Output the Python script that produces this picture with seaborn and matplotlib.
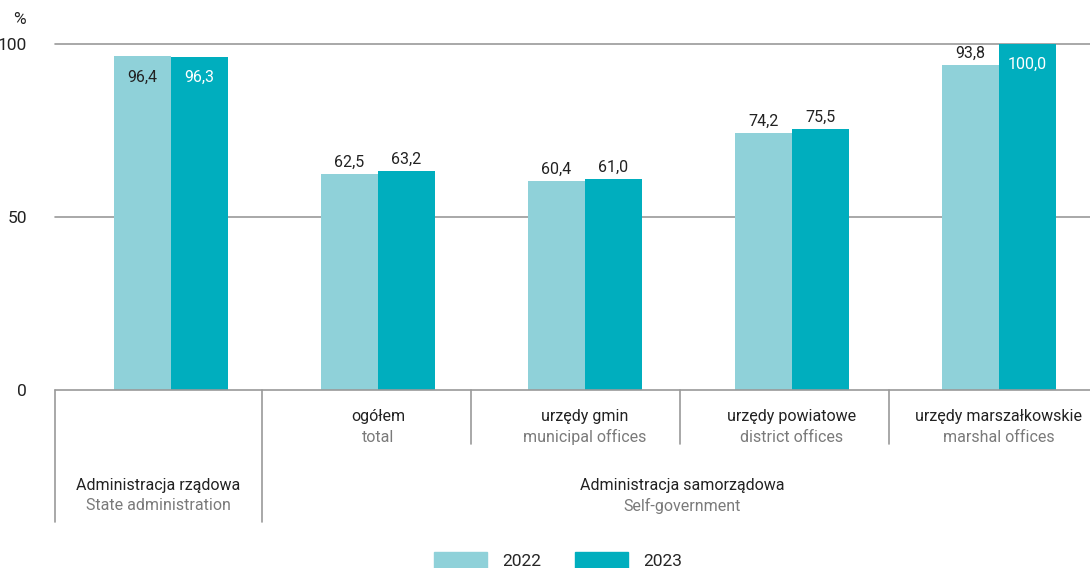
import pandas as pd
import matplotlib.pyplot as plt
import seaborn as sns
from matplotlib import transforms

# data
categories = ['Administracja rządowa', 'ogółem', 'urzędy gmin', 'urzędy powiatowe', 'urzędy marszałkowskie']
sub_pl = ['', 'ogółem', 'urzędy gmin', 'urzędy powiatowe', 'urzędy marszałkowskie']
sub_en = ['', 'total', 'municipal offices', 'district offices', 'marshal offices']
years = ['2022', '2023']
values_2022 = [96.4, 62.5, 60.4, 74.2, 93.8]
values_2023 = [96.3, 63.2, 61.0, 75.5, 100.0]

df = pd.DataFrame({
    'cat': categories * 2,
    'year': [years[0]] * 5 + [years[1]] * 5,
    'val': values_2022 + values_2023,
})

light = '#8FD1D9'
dark = '#00AEBE'
grid_col = '#9a9a9a'
txt_col = '#222222'
sub_col = '#7a7a7a'
fs = 11.5

sns.set_theme(style='white')
plt.rcParams['font.family'] = ['Roboto', 'DejaVu Sans']

fig = plt.figure(figsize=(10.9, 5.68), dpi=100)
ax = fig.add_axes([55 / 1090, 1 - 390 / 568, 1 - 55 / 1090, 346 / 568])

sns.barplot(data=df, x='cat', y='val', hue='year', order=categories,
            palette=[light, dark], width=0.55, gap=0, saturation=1,
            edgecolor='none', linewidth=0, ax=ax, legend=False)

ax.set_xlim(-0.56, 4.44)
ax.set_ylim(0, 100)
ax.set_yticks([0, 50, 100])
ax.set_yticklabels(['0', '50', '100'], fontsize=12.5, color=txt_col)
ax.tick_params(axis='y', length=0, pad=20)
ax.set_xticks([])
ax.set_xlabel('')
ax.set_ylabel('')
for s in ax.spines.values():
    s.set_visible(False)
for yv in [0, 50, 100]:
    ax.axhline(yv, color=grid_col, lw=1.2, zorder=0.5 if yv else 3, clip_on=False)

fig.text(19 / 1090, 1 - 19 / 568, '%', ha='center', va='center', fontsize=12.5, color=txt_col)

# value labels
for ci, cont in enumerate(ax.containers):
    for bi, p in enumerate(cont.patches):
        h = p.get_height()
        xc = p.get_x() + p.get_width() / 2
        txt = f'{h:.1f}'.replace('.', ',')
        inside = (bi == 0) or (ci == 1 and bi == 4)
        if inside:
            col = txt_col if ci == 0 else 'white'
            ax.text(xc, h - 5.9, txt, ha='center', va='center', fontsize=fs, color=col)
        else:
            ax.text(xc, h + 1.2, txt, ha='center', va='bottom', fontsize=fs, color=txt_col)

# category table below axis
tr = transforms.blended_transform_factory(ax.transData, ax.transAxes)
for xs, yb in [(-0.56, -0.382), (0.44, -0.382), (1.45, -0.156), (2.46, -0.156), (3.47, -0.156)]:
    ax.plot([xs, xs], [0, yb], transform=tr, color=grid_col, lw=1.2, clip_on=False)

for i in range(1, 5):
    ax.text(i, -0.078, sub_pl[i], transform=tr, ha='center', va='center', fontsize=fs, color=txt_col)
    ax.text(i, -0.136, sub_en[i], transform=tr, ha='center', va='center', fontsize=fs, color=sub_col)

ax.text(-0.06, -0.275, 'Administracja rządowa', transform=tr, ha='center', va='center', fontsize=fs, color=txt_col)
ax.text(-0.06, -0.335, 'State administration', transform=tr, ha='center', va='center', fontsize=fs, color=sub_col)
ax.text(2.47, -0.275, 'Administracja samorządowa', transform=tr, ha='center', va='center', fontsize=fs, color=txt_col)
ax.text(2.47, -0.335, 'Self-government', transform=tr, ha='center', va='center', fontsize=fs, color=sub_col)

handles = [plt.Rectangle((0, 0), 1, 1, color=light), plt.Rectangle((0, 0), 1, 1, color=dark)]
fig.legend(handles, years, loc='lower center', bbox_to_anchor=(0.512, -0.03), ncol=2,
           frameon=False, handlelength=3.05, handleheight=1.2, handletextpad=0.9,
           columnspacing=1.9, fontsize=12.5)

fig.savefig('out.png', dpi=100)
